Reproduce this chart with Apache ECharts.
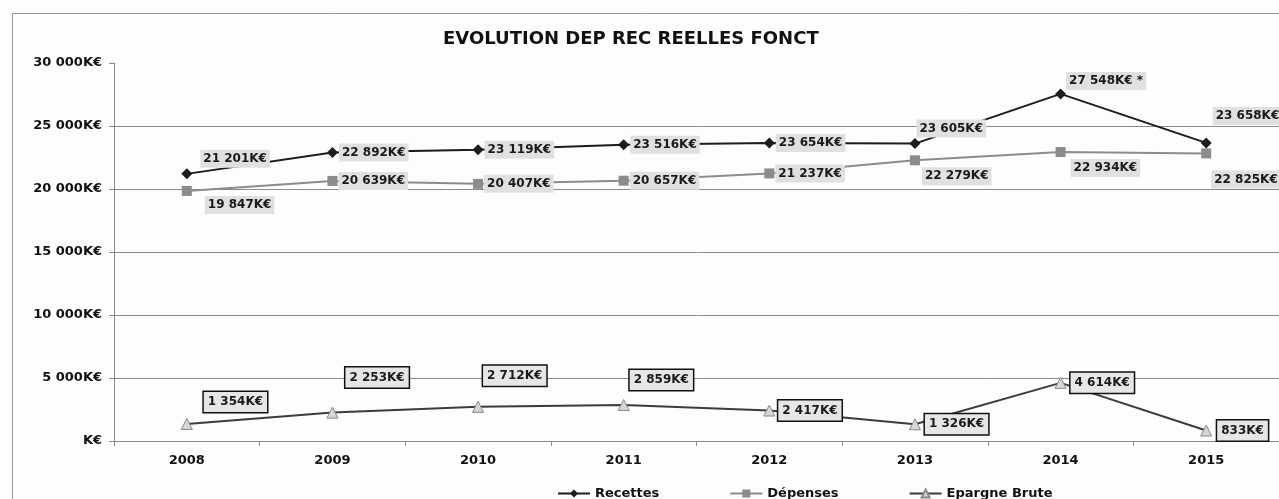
<!DOCTYPE html>
<html>
<head>
<meta charset="utf-8">
<script src="https://cdn.jsdelivr.net/npm/echarts@6/dist/echarts.min.js"></script>
<style>
  html, body { margin: 0; padding: 0; background: #fdfdfd; }
  #chart { width: 1279px; height: 499px; }
</style>
</head>
<body>
<div id="chart"></div>
<script>
// données (K€)
const years = ['2008', '2009', '2010', '2011', '2012', '2013', '2014', '2015'];
const recettes = [21201, 22892, 23119, 23516, 23654, 23605, 27548, 23658];
const depenses = [19847, 20639, 20407, 20657, 21237, 22279, 22934, 22825];
const epargne = [1354, 2253, 2712, 2859, 2417, 1326, 4614, 833];
const recettesNotes = ['', '', '', '', '', '', ' *', ''];

// décalage des étiquettes par point
const offRec = [[8, -15], [1, 0], [1, 0], [1, 0], [1, 0], [-4, -15], [0, -13], [1, -27]];
const offDep = [[13, 14], [1, 0], [1, 0], [1, 0], [1, 0], [2, 16], [5, 16], [0, 26]];
const offEp = [[11, -22], [7, -35], [-1, -31], [0, -25], [3, 0], [4, 0], [4, 0], [5, 0]];

const FONT = 'DejaVu Sans';

function fmt(v) {
  if (v === 0) return 'K€';
  return String(v).replace(/\B(?=(\d{3})+(?!\d))/g, ' ') + 'K€';
}

function items(values, offsets, notes) {
  return values.map((v, i) => ({
    value: v,
    label: { offset: offsets[i], formatter: fmt(v) + (notes ? notes[i] : '') }
  }));
}

const grayLabel = {
  show: true,
  position: 'right',
  distance: 0,
  fontFamily: FONT,
  fontWeight: 'bold',
  fontSize: 12,
  color: '#1a1a1a',
  backgroundColor: '#e0e0e0',
  padding: [3, 3]
};

const chart = echarts.init(document.getElementById('chart'));

chart.setOption({
  backgroundColor: '#fdfdfd',
  animation: false,
  title: {
    text: 'EVOLUTION DEP REC REELLES FONCT',
    left: 438,
    top: 25,
    textStyle: { fontFamily: FONT, fontWeight: 'bold', fontSize: 18, color: '#111' }
  },
  graphic: [{
    type: 'rect',
    left: 10,
    top: 11,
    shape: { width: 1300, height: 600 },
    style: { fill: 'none', stroke: '#9a9a9a', lineWidth: 1 },
    silent: true
  }],
  legend: {
    left: 552,
    top: 482,
    itemGap: 70,
    itemWidth: 32,
    itemHeight: 10,
    textStyle: { fontFamily: FONT, fontWeight: 'bold', fontSize: 13, color: '#111' },
    data: ['Recettes', 'Dépenses', 'Epargne Brute']
  },
  grid: { left: 114, right: -4, top: 63, bottom: 58 },
  xAxis: {
    type: 'category',
    data: years,
    boundaryGap: true,
    axisLine: { lineStyle: { color: '#8a8a8a', width: 1 } },
    axisTick: { show: true, length: 5, lineStyle: { color: '#8a8a8a' } },
    axisLabel: { fontFamily: FONT, fontWeight: 'bold', fontSize: 13, color: '#111', margin: 13 }
  },
  yAxis: {
    type: 'value',
    min: 0,
    max: 30000,
    interval: 5000,
    axisLine: { show: true, lineStyle: { color: '#8a8a8a' } },
    axisTick: { show: true, length: 5, lineStyle: { color: '#8a8a8a' } },
    axisLabel: { fontFamily: FONT, fontWeight: 'bold', fontSize: 13, color: '#111', margin: 12, formatter: fmt },
    splitLine: {
      lineStyle: { color: ['#8a8a8a', '#8a8a8a', '#8a8a8a', '#8a8a8a', '#8a8a8a', '#8a8a8a', 'rgba(0,0,0,0)'], width: 1 }
    }
  },
  series: [
    {
      name: 'Recettes',
      type: 'line',
      data: items(recettes, offRec, recettesNotes),
      symbol: 'diamond',
      symbolSize: 11,
      itemStyle: { color: '#1c1c1c' },
      lineStyle: { color: '#1c1c1c', width: 2 },
      label: grayLabel,
      z: 3
    },
    {
      name: 'Dépenses',
      type: 'line',
      data: items(depenses, offDep),
      symbol: 'rect',
      symbolSize: 10,
      itemStyle: { color: '#8c8c8c' },
      lineStyle: { color: '#8c8c8c', width: 2 },
      label: grayLabel,
      z: 2
    },
    {
      name: 'Epargne Brute',
      type: 'line',
      data: items(epargne, offEp),
      symbol: 'triangle',
      symbolSize: 11,
      itemStyle: { color: '#d6d6d6', borderColor: '#8a8a8a', borderWidth: 1 },
      lineStyle: { color: '#3c3c3c', width: 2 },
      label: Object.assign({}, grayLabel, {
        backgroundColor: '#e6e6e6',
        borderColor: '#111',
        borderWidth: 1.5,
        padding: [4, 4],
        distance: 0
      }),
      z: 2
    }
  ]
});
</script>
</body>
</html>
